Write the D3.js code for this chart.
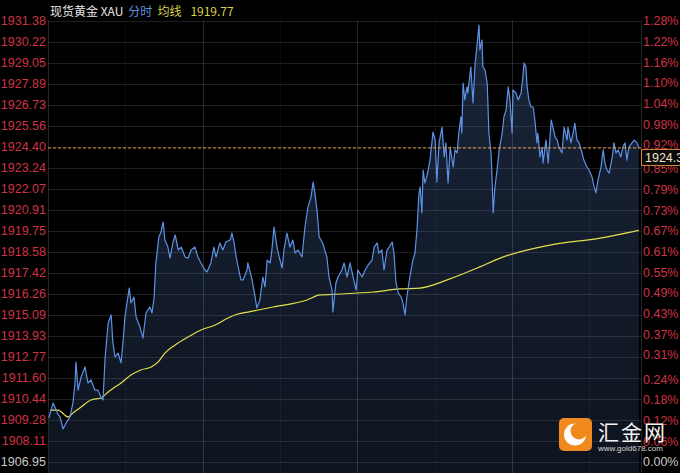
<!DOCTYPE html>
<html><head><meta charset="utf-8">
<script src="https://cdn.jsdelivr.net/npm/d3@7"></script>
<style>html,body{margin:0;padding:0;background:#000;}svg{display:block;}</style>
</head><body>
<script>
// ---- data (minutes from session open, 23h session) ----
const sessionMinutes = 1380;
const minutes = [2,7,12,19,23,28,35,42,51,58,63,65,70,77,86,93,100,109,116,123,128,133,140,147,151,156,163,170,175,179,189,193,200,205,214,221,228,237,242,247,251,258,263,268,272,279,284,291,296,303,310,319,326,333,342,349,356,365,370,379,386,391,400,407,414,424,428,433,438,444,449,454,463,465,475,482,486,493,500,505,510,517,521,526,533,538,545,549,556,563,570,575,582,591,598,605,612,617,621,626,631,638,642,649,654,661,663,670,675,684,689,696,703,710,717,721,731,738,745,754,759,766,770,777,782,789,794,801,805,810,815,822,826,831,835,842,849,854,859,863,866,870,873,877,882,889,896,901,905,910,917,922,926,931,936,943,947,952,956,961,963,966,970,975,977,984,989,994,998,1003,1005,1010,1012,1017,1022,1024,1026,1031,1033,1036,1040,1045,1050,1057,1061,1066,1071,1075,1080,1082,1089,1094,1101,1105,1108,1112,1115,1119,1124,1129,1133,1138,1140,1145,1150,1152,1159,1164,1171,1175,1180,1185,1189,1196,1201,1208,1210,1217,1222,1226,1231,1236,1243,1247,1254,1259,1266,1271,1275,1280,1287,1292,1296,1301,1306,1313,1317,1322,1327,1333,1338,1343,1347,1352,1359,1364,1371,1375];
const prices = [1909.37,1909.81,1910.20,1909.81,1909.59,1909.43,1908.76,1909.09,1909.43,1910.20,1911.31,1912.47,1910.92,1911.64,1912.20,1911.31,1911.48,1910.92,1910.92,1910.53,1910.37,1912.75,1914.63,1915.08,1913.53,1912.75,1912.97,1912.42,1913.69,1914.97,1916.57,1915.74,1916.07,1914.97,1914.41,1913.80,1915.19,1915.52,1915.19,1916.07,1917.96,1919.40,1919.68,1920.23,1919.23,1918.84,1918.23,1919.12,1919.51,1918.68,1918.84,1918.29,1918.23,1918.68,1918.84,1918.29,1917.96,1917.57,1917.46,1917.96,1918.84,1918.29,1919.07,1918.68,1919.12,1919.23,1919.62,1919.07,1918.29,1917.57,1917.02,1917.02,1917.57,1917.96,1917.02,1916.07,1915.47,1915.91,1917.18,1916.63,1918.12,1917.96,1918.68,1919.95,1918.84,1918.29,1917.68,1918.68,1919.62,1918.84,1919.23,1918.51,1918.68,1918.29,1919.95,1921.06,1921.61,1922.44,1921.84,1920.89,1919.40,1919.12,1918.84,1918.29,1917.18,1916.46,1915.24,1916.85,1917.18,1917.57,1917.96,1917.18,1917.96,1917.18,1916.46,1917.57,1917.18,1917.57,1917.85,1918.12,1918.84,1919.07,1918.51,1918.68,1917.57,1918.68,1918.84,1919.12,1918.51,1916.85,1916.30,1916.07,1915.74,1915.08,1916.07,1917.18,1918.12,1918.51,1919.90,1921.72,1922.17,1920.73,1923.11,1922.39,1922.78,1923.66,1925.21,1924.77,1922.44,1924.61,1925.49,1923.83,1924.61,1922.39,1924.38,1923.28,1924.22,1924.05,1925.16,1926.05,1925.16,1927.93,1926.99,1927.71,1927.38,1928.82,1926.82,1929.04,1929.92,1931.14,1929.76,1930.31,1928.82,1928.65,1927.93,1926.60,1925.16,1924.05,1922.94,1920.73,1922.17,1923.11,1924.22,1925.16,1926.05,1926.43,1927.71,1926.99,1925.16,1927.54,1927.38,1926.99,1927.38,1928.26,1929.04,1928.82,1927.71,1926.99,1926.60,1926.60,1925.88,1924.61,1925.16,1923.83,1924.38,1923.50,1924.77,1923.50,1925.88,1925.49,1924.94,1924.77,1924.38,1924.05,1925.49,1924.77,1925.49,1924.61,1925.16,1925.71,1924.77,1924.61,1924.05,1923.66,1923.28,1923.11,1922.72,1922.17,1921.84,1922.56,1923.28,1924.22,1923.50,1923.11,1922.94,1923.83,1924.61,1924.05,1924.22,1923.83,1924.38,1924.61,1923.66,1924.38,1924.61,1924.77,1924.61,1924.33];
const avgMinutes = [5,23,47,58,77,100,123,140,156,170,193,216,240,256,272,296,326,356,389,419,442,465,524,603,633,680,756,819,866,929,1005,1052,1168,1285,1375];
const avgPrices = [1909.81,1909.81,1909.43,1909.65,1909.98,1910.37,1910.48,1910.81,1911.09,1911.31,1911.75,1912.03,1912.20,1912.47,1912.97,1913.42,1913.86,1914.25,1914.52,1914.91,1915.13,1915.24,1915.52,1915.91,1916.19,1916.24,1916.35,1916.52,1916.57,1917.02,1917.74,1918.23,1918.95,1919.34,1919.77];
const priceTicks = [1931.38,1930.22,1929.05,1927.89,1926.73,1925.56,1924.40,1923.24,1922.07,1920.91,1919.75,1918.58,1917.42,1916.26,1915.09,1913.93,1912.77,1911.60,1910.44,1909.28,1908.11,1906.95];
const pctTicks = [1.28,1.22,1.16,1.10,1.04,0.98,0.92,0.85,0.79,0.73,0.67,0.61,0.55,0.49,0.43,0.37,0.31,0.24,0.18,0.12,0.06,0.00];
const gridMinutes = [0,180,360,540,720,900,1080,1260,1380];
const prevClose = 1906.95;
const lastPrice = 1924.33;
const avgLast = 1919.77;
const titleParts = [["现货黄金 XAU","#e6e6e6"],["分时","#5f8fdc"],["均线","#d9d24a"],["1919.77","#d9d24a"]];

// ---- layout ----
const W = 680, H = 473;
const L = 48, R = 641, T = 20.7, B = 461.7, BOTTOM = 473;
const svg = d3.select("body").append("svg").attr("width", W).attr("height", H);
svg.append("rect").attr("width", W).attr("height", H).attr("fill", "#000");

const x = d3.scaleLinear().domain([0, sessionMinutes]).range([L, R]);
const y = d3.scaleLinear().domain([prevClose, priceTicks[0]]).range([B, T]);
const yp = d3.scaleLinear().domain([0, pctTicks[0]]).range([B, T]);

const defs = svg.append("defs");
const grad = defs.append("linearGradient").attr("id","fillg").attr("gradientUnits","userSpaceOnUse")
  .attr("x1",0).attr("y1",T).attr("x2",0).attr("y2",BOTTOM);
grad.append("stop").attr("offset","0%").attr("stop-color","#19253a");
grad.append("stop").attr("offset","100%").attr("stop-color","#0e141f");
defs.append("clipPath").attr("id","plotclip").append("rect").attr("x",L).attr("y",0).attr("width",R-L).attr("height",BOTTOM);

const pts = minutes.map((m,i)=>({m, p: prices[i]}));
const avgPts = avgMinutes.map((m,i)=>({m, p: avgPrices[i]}));

const plot = svg.append("g").attr("clip-path","url(#plotclip)");
// area under price
plot.append("path").datum(pts)
  .attr("d", d3.area().x(d=>x(d.m)).y0(BOTTOM).y1(d=>y(d.p)))
  .attr("fill","url(#fillg)");

// horizontal grid
const crisp = v => Math.round(v) + 0.5;
svg.append("g").selectAll("line").data(priceTicks).join("line")
  .attr("x1", L).attr("x2", R).attr("y1", d=>crisp(y(d))).attr("y2", d=>crisp(y(d)))
  .attr("stroke", "rgba(140,150,170,0.2)").attr("stroke-width",1);
// vertical grid
svg.append("g").selectAll("line").data(gridMinutes).join("line")
  .attr("x1", d=>crisp(x(d))).attr("x2", d=>crisp(x(d))).attr("y1", T).attr("y2", BOTTOM)
  .attr("stroke", d => (d % 360 === 0 || d === sessionMinutes) ? "rgba(140,150,170,0.25)" : "rgba(140,150,170,0.16)")
  .attr("stroke-dasharray", d => (d % 360 === 0 || d === sessionMinutes) ? null : "2,2")
  .attr("stroke-width",1);

// average line
plot.append("path").datum(avgPts)
  .attr("d", d3.line().x(d=>x(d.m)).y(d=>y(d.p)).curve(d3.curveMonotoneX))
  .attr("fill","none").attr("stroke","#e4e04c").attr("stroke-width",1.2);
// price line
plot.append("path").datum(pts)
  .attr("d", d3.line().x(d=>x(d.m)).y(d=>y(d.p)))
  .attr("fill","none").attr("stroke","#5d92e6").attr("stroke-width",1.2).attr("stroke-linejoin","round");

// last price dashed line
svg.append("line").attr("x1",L).attr("x2",R).attr("y1",y(lastPrice)).attr("y2",y(lastPrice))
  .attr("stroke","#e8963c").attr("stroke-width",1).attr("stroke-dasharray","3,2");

// left axis
const font = "'Liberation Sans', Arial, sans-serif";
const redC = "#cf3344", greyC = "#c9c9c9";
const leftAxis = d3.axisLeft(y).tickValues(priceTicks).tickSize(0).tickPadding(2).tickFormat(d3.format(".2f"));
const gl = svg.append("g").attr("transform", `translate(${L},0)`).call(leftAxis);
gl.select(".domain").remove();
gl.selectAll("text").attr("font-family", font).attr("font-size", 12.5)
  .attr("fill", d => d === prevClose ? greyC : redC);

const rightAxis = d3.axisRight(yp).tickValues(pctTicks).tickSize(0).tickPadding(2).tickFormat(d => d.toFixed(2) + "%");
const gr = svg.append("g").attr("transform", `translate(${R},0)`).call(rightAxis);
gr.select(".domain").remove();
gr.selectAll("text").attr("font-family", font).attr("font-size", 12.5)
  .attr("fill", d => d === 0 ? greyC : redC);

// last price tag
const ly = y(lastPrice);
svg.append("rect").attr("x", R + 0.5).attr("y", ly + 1.5).attr("width", 45).attr("height", 16)
  .attr("fill", "#0a0a0a").attr("stroke", "#d8893a").attr("stroke-width", 1);
svg.append("text").attr("x", R + 4).attr("y", ly + 14).attr("font-family", font).attr("font-size", 12.5)
  .attr("fill", "#efe3c8").text(lastPrice.toFixed(2));

// title
const title = svg.append("text").attr("x", 50).attr("y", 15.5)
  .attr("font-family", "'Noto Sans CJK SC', 'Liberation Sans', sans-serif").attr("font-size", 12);
titleParts.forEach((tp, i) => {
  title.append("tspan").attr("dx", i === 0 ? 0 : (i === 3 ? 9 : 5)).attr("fill", tp[1]).text(tp[0]);
});

// watermark logo
const lg = svg.append("g");
lg.append("rect").attr("x", 559).attr("y", 418).attr("width", 33).attr("height", 33).attr("rx", 5).attr("fill", "#f08a1e");
lg.append("circle").attr("cx", 575).attr("cy", 434.5).attr("r", 11).attr("fill", "#fff");
lg.append("circle").attr("cx", 579).attr("cy", 431).attr("r", 8.5).attr("fill", "#f08a1e");
lg.append("text").attr("x", 598).attr("y", 440).attr("font-family", "'Noto Sans CJK SC', sans-serif")
  .attr("font-size", 21).attr("letter-spacing", 2).attr("fill", "#f2f2f2").text("汇金网");
lg.append("text").attr("x", 598).attr("y", 451).attr("font-family", font)
  .attr("font-size", 8).attr("fill", "#d8d8d8").text("www.gold678.com");
</script>
</body></html>
